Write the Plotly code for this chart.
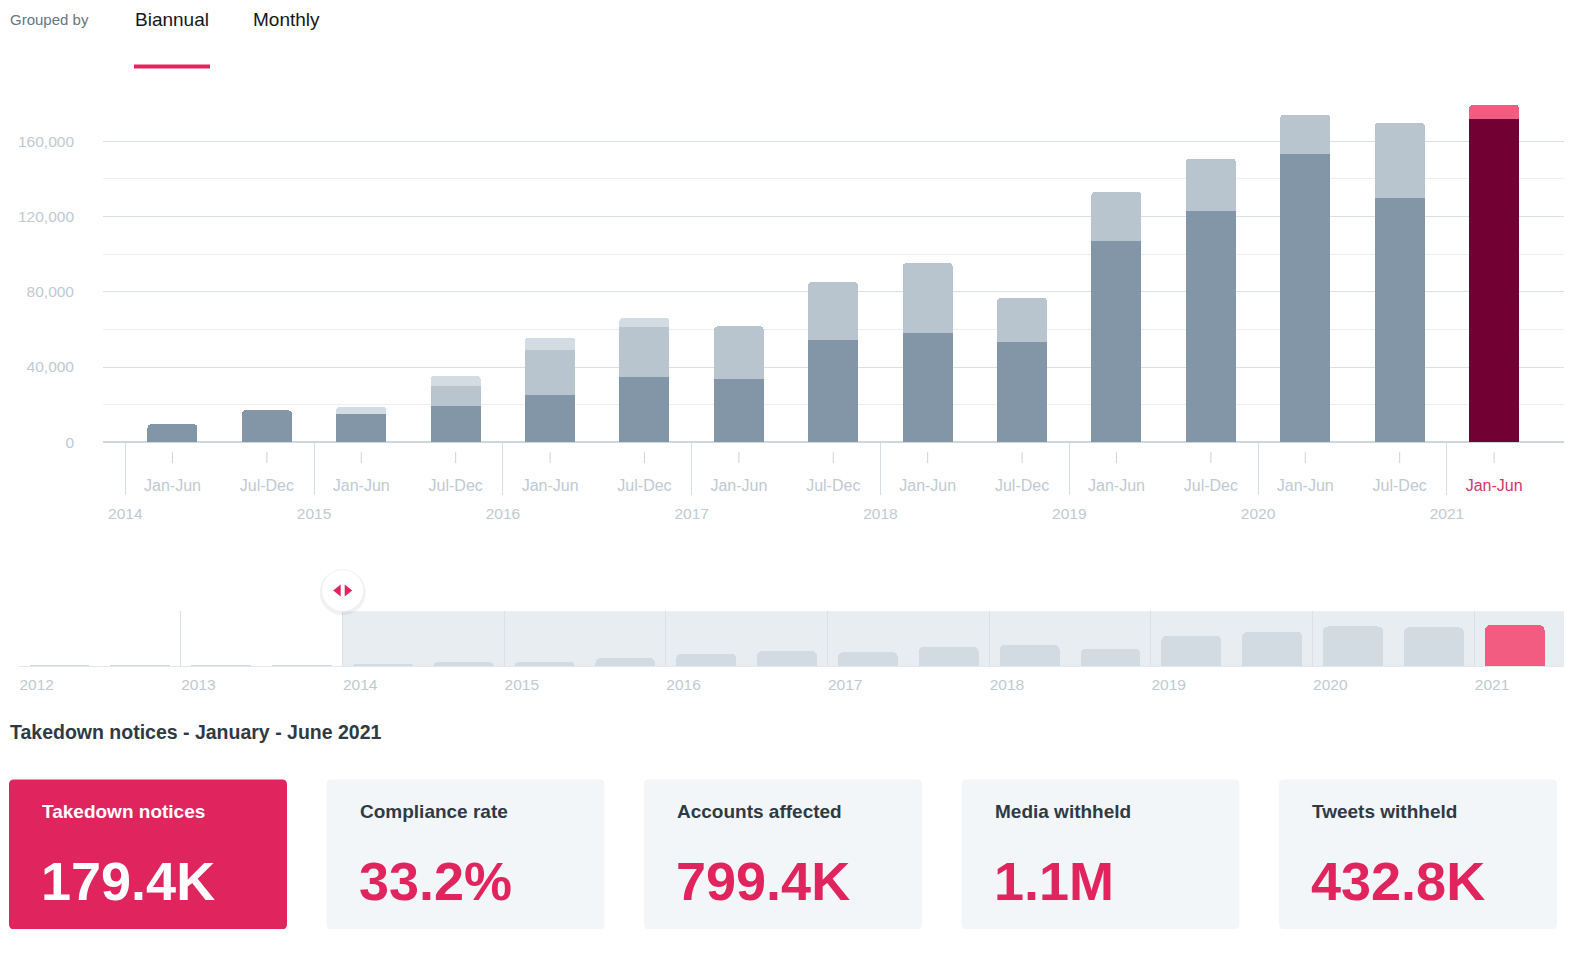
import plotly.graph_objects as go

# biannual takedown notices
periods = ["Jan-Jun", "Jul-Dec"] * 7 + ["Jan-Jun"]
years = ["2014", "2015", "2016", "2017", "2018", "2019", "2020", "2021"]
base_seg = [9600, 17000, 15300, 19500, 25400, 34700, 33900, 54500,
            58000, 53400, 107100, 123100, 153400, 130000, 171800]
mid_seg = [0, 0, 0, 10300, 23500, 26600, 27700, 30600,
           37200, 23400, 26100, 27700, 20800, 39900, 7600]
top_seg = [0, 0, 3500, 5500, 6800, 5000, 0, 0,
           0, 0, 0, 0, 0, 0, 0]

# navigator strip: 2012 H1 .. 2013 H2 before the main window
nav_years = ["2012", "2013", "2014", "2015", "2016", "2017", "2018", "2019", "2020", "2021"]
early_totals = [3400, 3300, 5800, 6100]

# summary cards for the selected half-year
card_titles = ["Takedown notices", "Compliance rate", "Accounts affected", "Media withheld", "Tweets withheld"]
card_values = ["179.4K", "33.2%", "799.4K", "1.1M", "432.8K"]

FONT = "Liberation Sans, Arial, sans-serif"
PINK = "#e0245e"
AXIS_TXT = "#c0cad2"
DARK_TXT = "#2f3a44"

# page is 1575x959, body margin 8px
M = 8
W, H = 1575 - 2 * M, 959 - 2 * M


def fx(px):
    return (px - M) / W


def fy(py):
    return 1 - (py - M) / H


n = len(periods)
idx = list(range(n))
sel = n - 1

fig = go.Figure()
fig.add_bar(x=idx, y=base_seg, width=0.53,
            marker=dict(color=["#8396a7"] * sel + ["#720033"], line_width=0))
fig.add_bar(x=idx, y=mid_seg, width=0.53,
            marker=dict(color=["#b8c5ce"] * sel + ["#f25c80"], line_width=0))
fig.add_bar(x=idx, y=top_seg, width=0.53,
            marker=dict(color=["#d3dce3"] * n, line_width=0))

# dummy trace so the year axis is drawn
year_pos = [i - 0.5 for i in idx if periods[i] == "Jan-Jun"]
fig.add_scatter(x=year_pos, y=[None] * len(year_pos), xaxis="x3", yaxis="y",
                mode="markers", hoverinfo="skip")

nav_totals = early_totals + [b + m + t for b, m, t in zip(base_seg, mid_seg, top_seg)]
nav_x = [k + 0.5 for k in range(len(nav_totals))]
fig.add_bar(x=nav_x, y=nav_totals, width=0.74, xaxis="x2", yaxis="y2",
            marker=dict(color=["#d3dbe2"] * (len(nav_totals) - 1) + ["#f25c80"],
                        cornerradius=5, line_width=0))

ticktext = list(periods)
ticktext[sel] = '<span style="color:#d0376a">%s</span>' % periods[sel]

# main plot 103..1564 px, ~94.4 px per half-year
PLOT_L, PLOT_R, STEP = 103, 1564, 94.4
x_range = [-0.736, -0.736 + (PLOT_R - PLOT_L) / STEP]
NAV_L, NAV_R, NAV_STEP = 19, 1564, 80.85
nav_range = [0, (NAV_R - NAV_L) / NAV_STEP]

Y_TOP, Y_BOT = 104.5, 446
NAV_TOP, NAV_BOT = 616.5, 672

fig.update_layout(
    width=W, height=H,
    margin=dict(l=0, r=0, t=0, b=0),
    paper_bgcolor="white", plot_bgcolor="white",
    showlegend=False,
    barmode="stack",
    barcornerradius=4,
    font=dict(family=FONT, color=AXIS_TXT),
    xaxis=dict(domain=[fx(PLOT_L), fx(PLOT_R)], range=x_range, anchor="y",
               tickvals=idx, ticktext=ticktext, ticks="",
               showgrid=False, zeroline=False, showline=False,
               tickfont=dict(size=16, color=AXIS_TXT), ticklabelstandoff=32,
               fixedrange=True),
    xaxis3=dict(overlaying="x", anchor="y", range=x_range,
                tickvals=year_pos, ticktext=years, ticks="outside", ticklen=52,
                tickcolor="#d5dce2", tickwidth=1,
                showgrid=False, zeroline=False, showline=False,
                tickfont=dict(size=15.5, color=AXIS_TXT), ticklabelstandoff=5,
                fixedrange=True),
    yaxis=dict(domain=[fy(Y_BOT), fy(Y_TOP)], range=[0, 180000], anchor="x",
               tick0=0, dtick=40000, tickformat=",", ticks="",
               gridcolor="#d9e0e6", gridwidth=1,
               minor=dict(dtick=20000, showgrid=True, gridcolor="#edf0f3"),
               zeroline=True, zerolinecolor="#cfd7de", zerolinewidth=2,
               tickfont=dict(size=15.5, color=AXIS_TXT), ticklabelstandoff=28,
               fixedrange=True),
    xaxis2=dict(domain=[fx(NAV_L), fx(NAV_R)], range=nav_range, anchor="y2",
                tickvals=list(range(0, 2 * len(nav_years), 2)), ticktext=nav_years,
                ticklabelposition="outside right", ticks="",
                showgrid=True, gridcolor="#d9e0e6", zeroline=False,
                showline=True, linecolor="#e3e8ec", linewidth=1,
                tickfont=dict(size=15.5, color=AXIS_TXT), ticklabelstandoff=4,
                fixedrange=True),
    yaxis2=dict(domain=[fy(NAV_BOT), fy(NAV_TOP)], range=[0, 240000], anchor="x2",
                visible=False, fixedrange=True),
)

shapes = []
# short detached tick marks under each bar
for i in idx:
    shapes.append(dict(type="line", xref="x", yref="paper", x0=i, x1=i,
                       y0=fy(456), y1=fy(467), line=dict(color="#cbd3da", width=1)))

# selected window in the navigator
shapes.append(dict(type="rect", xref="x2", yref="y2 domain", x0=4, x1=nav_range[1],
                   y0=0, y1=1, fillcolor="#e8edf1", line_width=0, layer="below"))

# navigator handle
cx, cy, r = 342.7, 595.5, 21
shapes.append(dict(type="circle", xref="paper", yref="paper",
                   x0=fx(cx - r - 2), x1=fx(cx + r + 2), y0=fy(cy + r + 4), y1=fy(cy - r),
                   fillcolor="rgba(20,23,26,0.06)", line_width=0))
shapes.append(dict(type="circle", xref="paper", yref="paper",
                   x0=fx(cx - r), x1=fx(cx + r), y0=fy(cy + r), y1=fy(cy - r),
                   fillcolor="white", line=dict(color="#eef1f4", width=1)))
for tip, base in [(cx - 9.5, cx - 2), (cx + 9.5, cx + 2)]:
    shapes.append(dict(type="path", xref="paper", yref="paper",
                       path="M %f,%f L %f,%f L %f,%f Z" % (fx(tip), fy(cy), fx(base), fy(cy - 6),
                                                           fx(base), fy(cy + 6)),
                       fillcolor=PINK, line_width=0))

# tab underline
shapes.append(dict(type="rect", xref="paper", yref="paper", x0=fx(134), x1=fx(210),
                   y0=fy(69), y1=fy(65), fillcolor=PINK, line_width=0))


def rounded(x0, y0, x1, y1, rad):
    rx, ry = rad / W, rad / H
    a0, a1, b0, b1 = fx(x0), fx(x1), fy(y1), fy(y0)
    return ("M %f,%f L %f,%f Q %f,%f %f,%f L %f,%f Q %f,%f %f,%f L %f,%f Q %f,%f %f,%f "
            "L %f,%f Q %f,%f %f,%f Z" % (
                a0 + rx, b0, a1 - rx, b0, a1, b0, a1, b0 + ry, a1, b1 - ry, a1, b1, a1 - rx, b1,
                a0 + rx, b1, a0, b1, a0, b1 - ry, a0, b0 + ry, a0, b0, a0 + rx, b0))


annotations = [
    dict(text="Grouped by", x=fx(8), y=fy(20), font=dict(size=15, color="#657786")),
    dict(text="Biannual", x=fx(133), y=fy(19.5), font=dict(size=19, color="#14171a")),
    dict(text="Monthly", x=fx(251), y=fy(19.5), font=dict(size=19, color="#14171a")),
    dict(text="<b>Takedown notices - January - June 2021</b>", x=fx(8), y=fy(738),
         font=dict(size=19.5, color=DARK_TXT)),
]

card_w, pitch = 278, 317.5
for k, (title, val) in enumerate(zip(card_titles, card_values)):
    left = 9 + k * pitch
    hot = k == 0
    shapes.append(dict(type="path", xref="paper", yref="paper",
                       path=rounded(left, 786, left + card_w, 937, 5),
                       fillcolor=PINK if hot else "#f3f6f8", line_width=0, layer="below"))
    annotations.append(dict(text="<b>%s</b>" % title, x=fx(left + 31), y=fy(818.5),
                            font=dict(size=19, color="white" if hot else DARK_TXT)))
    annotations.append(dict(text="<b>%s</b>" % val, x=fx(left + 30), y=fy(888),
                            font=dict(size=54, color="white" if hot else PINK)))

for a in annotations:
    a.update(xref="paper", yref="paper", xanchor="left", yanchor="middle", showarrow=False)
    a["font"].setdefault("family", FONT)

fig.update_layout(shapes=shapes, annotations=annotations)

fig.write_html("out.html")
